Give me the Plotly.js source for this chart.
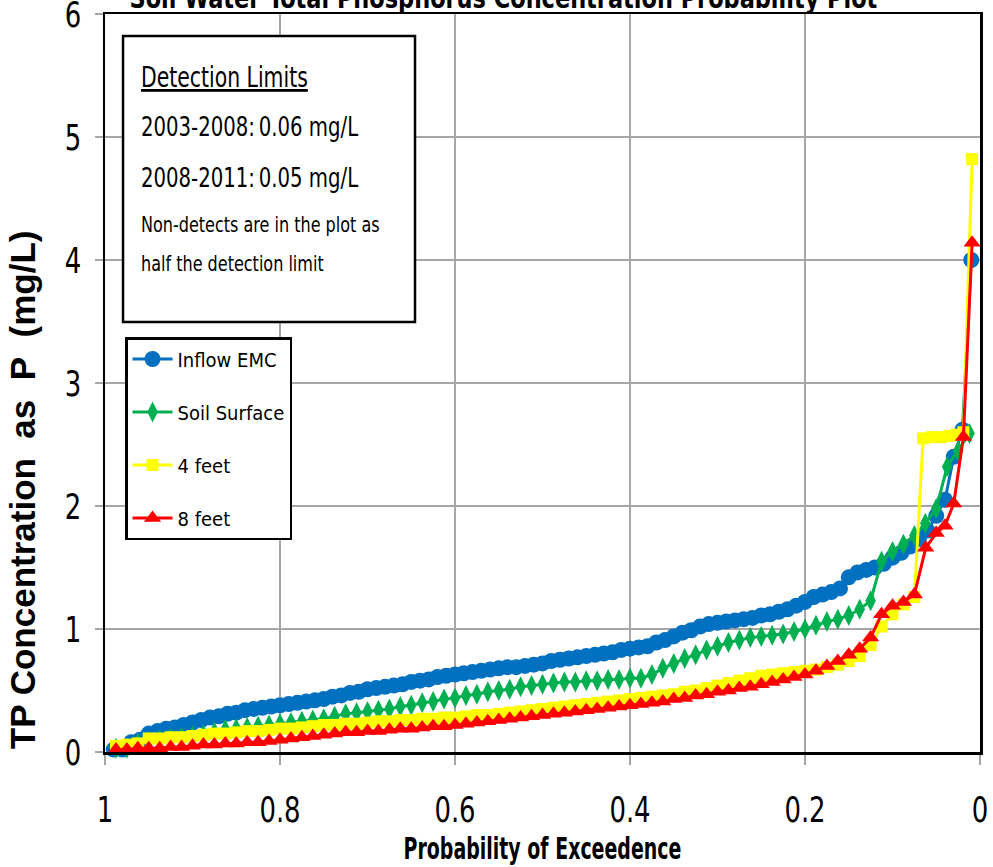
<!DOCTYPE html>
<html>
<head>
<meta charset="utf-8">
<script src="https://cdn.plot.ly/plotly-3.0.1.min.js"></script>
<style>html,body{margin:0;padding:0;background:#fff;}#chart{width:993px;height:867px;}</style>
</head>
<body>
<div id="chart"></div>
<script>
// ---- Data ----
const seriesNames = ["Inflow EMC", "Soil Surface", "4 feet", "8 feet"];

const inflowX = [0.99,0.98,0.97,0.96,0.95,0.94,0.93,0.92,0.91,0.90,0.89,0.88,0.87,0.86,0.85,0.84,0.83,0.82,0.81,0.80,
  0.79,0.78,0.77,0.76,0.75,0.74,0.73,0.72,0.71,0.70,0.69,0.68,0.67,0.66,0.65,0.64,0.63,0.62,0.61,0.60,
  0.59,0.58,0.57,0.56,0.55,0.54,0.53,0.52,0.51,0.50,0.49,0.48,0.47,0.46,0.45,0.44,0.43,0.42,0.41,0.40,
  0.39,0.38,0.37,0.36,0.35,0.34,0.33,0.32,0.31,0.30,0.29,0.28,0.27,0.26,0.25,0.24,0.23,0.22,0.21,0.20,
  0.19,0.18,0.17,0.16,0.15,0.14,0.13,0.12,0.11,0.10,0.09,0.08,0.07,0.06,0.05,0.04,0.03,0.02,0.01];
const inflowY = [0.02,0.02,0.08,0.10,0.15,0.17,0.19,0.20,0.22,0.24,0.26,0.28,0.29,0.31,0.32,0.34,0.35,0.36,0.37,0.38,
  0.39,0.40,0.41,0.42,0.43,0.45,0.46,0.48,0.49,0.51,0.52,0.53,0.54,0.55,0.57,0.58,0.59,0.61,0.62,0.63,
  0.64,0.65,0.66,0.67,0.68,0.69,0.69,0.70,0.71,0.72,0.74,0.75,0.76,0.77,0.78,0.79,0.80,0.81,0.83,0.84,
  0.85,0.86,0.89,0.91,0.94,0.97,0.99,1.02,1.04,1.05,1.06,1.07,1.08,1.09,1.11,1.12,1.14,1.16,1.19,1.22,
  1.26,1.28,1.30,1.33,1.42,1.46,1.48,1.50,1.53,1.58,1.62,1.67,1.73,1.80,1.92,2.05,2.40,2.62,4.00];

const soilX = [0.9875,0.975,0.9625,0.95,0.9375,0.925,0.9125,0.9,0.8875,0.875,0.8625,0.85,0.8375,0.825,0.8125,0.8,
  0.7875,0.775,0.7625,0.75,0.7375,0.725,0.7125,0.7,0.6875,0.675,0.6625,0.65,0.6375,0.625,0.6125,0.6,
  0.5875,0.575,0.5625,0.55,0.5375,0.525,0.5125,0.5,0.4875,0.475,0.4625,0.45,0.4375,0.425,0.4125,0.4,
  0.3875,0.375,0.3625,0.35,0.3375,0.325,0.3125,0.3,0.2875,0.275,0.2625,0.25,0.2375,0.225,0.2125,0.2,
  0.1875,0.175,0.1625,0.15,0.1375,0.125,0.1125,0.1,0.0875,0.075,0.0625,0.05,0.0375,0.025,0.012];
const soilY = [0.03,0.03,0.07,0.09,0.10,0.11,0.12,0.13,0.14,0.16,0.18,0.19,0.20,0.21,0.22,0.23,
  0.24,0.25,0.26,0.27,0.29,0.31,0.32,0.33,0.34,0.35,0.37,0.38,0.40,0.41,0.43,0.44,
  0.46,0.47,0.49,0.50,0.51,0.53,0.54,0.55,0.56,0.57,0.57,0.58,0.58,0.59,0.59,0.60,
  0.60,0.63,0.68,0.72,0.76,0.79,0.83,0.86,0.89,0.91,0.93,0.94,0.95,0.96,0.98,1.00,
  1.03,1.06,1.08,1.11,1.16,1.23,1.55,1.63,1.69,1.76,1.86,1.98,2.32,2.45,2.59];

const fourFtX = [0.9875,0.975,0.9625,0.95,0.9375,0.925,0.9125,0.9,0.8875,0.875,0.8625,0.85,0.8375,0.825,0.8125,0.8,
  0.7875,0.775,0.7625,0.75,0.7375,0.725,0.7125,0.7,0.6875,0.675,0.6625,0.65,0.6375,0.625,0.6125,0.6,
  0.5875,0.575,0.5625,0.55,0.5375,0.525,0.5125,0.5,0.4875,0.475,0.4625,0.45,0.4375,0.425,0.4125,0.4,
  0.3875,0.375,0.3625,0.35,0.3375,0.325,0.3125,0.3,0.2875,0.275,0.2625,0.25,0.2375,0.225,0.2125,0.2,
  0.1875,0.175,0.1625,0.15,0.1375,0.125,0.1125,0.1,0.0875,0.075,0.065,0.055,0.045,0.035,0.027,0.019,0.009];
const fourFtY = [0.05,0.06,0.07,0.11,0.11,0.12,0.12,0.13,0.14,0.15,0.15,0.16,0.17,0.17,0.18,0.19,
  0.19,0.20,0.21,0.22,0.22,0.23,0.23,0.24,0.25,0.25,0.26,0.26,0.27,0.27,0.28,0.28,
  0.29,0.30,0.30,0.31,0.32,0.33,0.34,0.35,0.36,0.37,0.38,0.39,0.40,0.41,0.42,0.43,
  0.44,0.45,0.46,0.47,0.49,0.50,0.52,0.54,0.56,0.58,0.60,0.62,0.63,0.64,0.65,0.66,
  0.67,0.69,0.71,0.74,0.78,0.87,1.02,1.12,1.20,1.26,2.55,2.56,2.56,2.57,2.58,2.60,4.82];

const eightFtX = [0.9875,0.975,0.9625,0.95,0.9375,0.925,0.9125,0.9,0.8875,0.875,0.8625,0.85,0.8375,0.825,0.8125,0.8,
  0.7875,0.775,0.7625,0.75,0.7375,0.725,0.7125,0.7,0.6875,0.675,0.6625,0.65,0.6375,0.625,0.6125,0.6,
  0.5875,0.575,0.5625,0.55,0.5375,0.525,0.5125,0.5,0.4875,0.475,0.4625,0.45,0.4375,0.425,0.4125,0.4,
  0.3875,0.375,0.3625,0.35,0.3375,0.325,0.3125,0.3,0.2875,0.275,0.2625,0.25,0.2375,0.225,0.2125,0.2,
  0.1875,0.175,0.1625,0.15,0.1375,0.125,0.1125,0.1,0.0875,0.075,0.062,0.05,0.04,0.03,0.019,0.009];
const eightFtY = [0.02,0.02,0.03,0.03,0.03,0.04,0.04,0.05,0.06,0.06,0.07,0.07,0.08,0.08,0.09,0.10,
  0.11,0.12,0.13,0.14,0.15,0.16,0.16,0.17,0.17,0.18,0.19,0.19,0.20,0.21,0.21,0.22,
  0.23,0.24,0.25,0.26,0.27,0.28,0.29,0.30,0.31,0.32,0.33,0.34,0.35,0.36,0.37,0.38,
  0.39,0.40,0.41,0.43,0.44,0.46,0.47,0.49,0.50,0.52,0.53,0.55,0.57,0.59,0.61,0.63,
  0.66,0.70,0.74,0.79,0.84,0.93,1.12,1.19,1.22,1.28,1.66,1.78,1.84,2.02,2.56,4.14];

const xTickVals = [1, 0.8, 0.6, 0.4, 0.2, 0];
const xTickText = ["1", "0.8", "0.6", "0.4", "0.2", "0"];
const yTickVals = [0, 1, 2, 3, 4, 5, 6];
const yTickText = ["0", "1", "2", "3", "4", "5", "6"];

const noteLines = ["<u>Detection Limits</u>", "2003-2008:\u20090.06 mg/L", "2008-2011:\u20090.05 mg/L",
  "Non-detects are in the plot as", "half the detection limit"];

// ---- Styling ----
const NARROW = "'DejaVu Sans Condensed', 'Liberation Sans Narrow', sans-serif";
const colors = ["#0070C0", "#00B050", "#FFFF00", "#FF0000"];

function tr(i, x, y, symbol, size) {
  return {
    type: "scatter", mode: "lines+markers", name: seriesNames[i], x: x, y: y,
    legendgroup: "g" + i, cliponaxis: false,
    line: {color: colors[i], width: 3},
    marker: {color: colors[i], symbol: symbol, size: size, line: {width: 0}}
  };
}

const data = [
  tr(0, inflowX, inflowY, "circle", 16),
  tr(1, soilX, soilY, "diamond-tall", 15),
  tr(2, fourFtX, fourFtY, "square", 12),
  tr(3, eightFtX, eightFtY, "triangle-up", 15)
];

const noteY = [0.9133, 0.8469, 0.7791, 0.7141, 0.6626];
const noteSize = [28, 27, 27, 22, 22];
const annotations = noteLines.map((t, i) => ({
  text: t, xref: "paper", yref: "paper", x: 0.0389, y: noteY[i],
  xanchor: "left", yanchor: "middle", showarrow: false, align: "left",
  font: {family: NARROW, size: noteSize[i], color: "#000"}
}));
annotations.push({
  text: "TP Concentration\u00a0 as\u00a0 P\u00a0 (mg/L)", textangle: -90,
  xref: "paper", yref: "paper", x: -0.095, y: 0.356, xanchor: "center", yanchor: "middle",
  showarrow: false, font: {family: "'Liberation Sans', Arial, sans-serif", size: 35, weight: "bold", color: "#000"}
});

const layout = {
  width: 993, height: 867,
  margin: {l: 105, r: 13, t: 14, b: 115},
  paper_bgcolor: "#fff", plot_bgcolor: "#fff",
  title: {
    text: "Soil Water Total Phosphorus Concentration Probability Plot",
    xref: "container", yref: "container", x: 0.507, xanchor: "center", y: 0.9908, yanchor: "bottom",
    font: {family: NARROW, size: 29, weight: "bold", color: "#000"}
  },
  showlegend: true,
  legend: {
    x: 0.0229, y: 0.5623, xanchor: "left", yanchor: "top",
    bgcolor: "#fff", bordercolor: "#000", borderwidth: 2.5,
    font: {family: NARROW, size: 20, color: "#000"},
    tracegroupgap: 24, itemwidth: 40
  },
  xaxis: {
    range: [1, 0], tickvals: xTickVals, ticktext: xTickText,
    showgrid: true, gridcolor: "#a6a6a6", gridwidth: 1.5, zeroline: false,
    showline: true, linecolor: "#000", linewidth: 2.5, mirror: true,
    ticks: "outside", ticklen: 10, tickcolor: "#a6a6a6", tickwidth: 1.5,
    ticklabelstandoff: 14, ticklabeloverflow: "allow",
    tickfont: {family: NARROW, size: 36, color: "#000"},
    title: {text: "Probability of Exceedence", standoff: 0,
      font: {family: NARROW, size: 31, weight: "bold", color: "#000"}}
  },
  yaxis: {
    range: [0, 6], tickvals: yTickVals, ticktext: yTickText,
    showgrid: true, gridcolor: "#a6a6a6", gridwidth: 1.5, zeroline: false,
    showline: true, linecolor: "#000", linewidth: 2.5, mirror: true,
    ticks: "outside", ticklen: 8, tickcolor: "#a6a6a6", tickwidth: 1.5,
    ticklabelstandoff: 6, ticklabeloverflow: "allow",
    tickfont: {family: NARROW, size: 36, color: "#000"}
  },
  shapes: [{
    type: "rect", xref: "paper", yref: "paper", x0: 0.0206, x1: 0.3543, y0: 0.5827, y1: 0.9702,
    line: {color: "#000", width: 2.5}, fillcolor: "#fff", layer: "above"
  }],
  annotations: annotations
};

// horizontally condense text glyphs (the reference uses a narrow typeface)
function condense(nodes, f) {
  nodes.forEach(el => {
    const w = el.getComputedTextLength();
    if (w > 0) {
      el.setAttribute("textLength", (w * f).toFixed(1));
      el.setAttribute("lengthAdjust", "spacingAndGlyphs");
    }
  });
}

Plotly.newPlot("chart", data, layout, {displayModeBar: false, staticPlot: true}).then(gd => {
  const q = s => Array.from(gd.querySelectorAll(s));
  condense(q(".xtick text"), 0.8);
  condense(q(".ytick text"), 0.8);
  condense(q(".g-xtitle text"), 0.68);
  condense(q(".g-gtitle text"), 0.86);
  condense(q(".annotation-text").filter(t => t.textContent.indexOf("TP") !== 0), 0.81);
});
</script>
</body>
</html>
